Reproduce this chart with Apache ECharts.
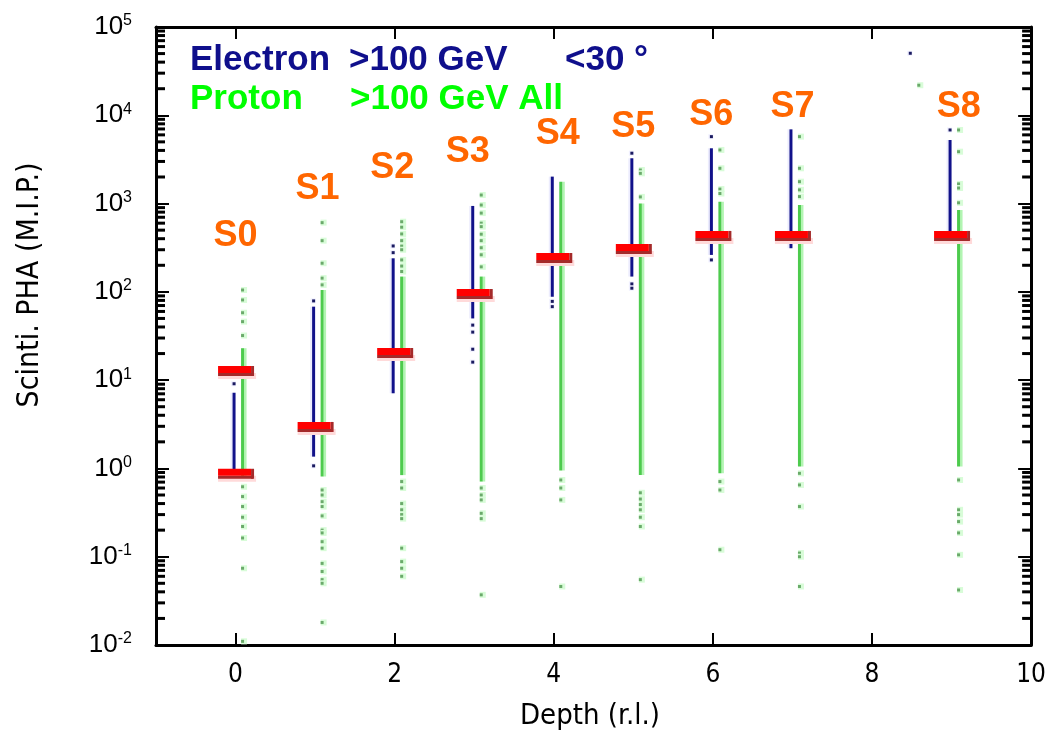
<!DOCTYPE html>
<html><head><meta charset="utf-8">
<script src="https://cdn.jsdelivr.net/npm/echarts@6/dist/echarts.min.js"></script>
<style>html,body{margin:0;padding:0;background:#fff}#c{width:1049px;height:738px}</style>
</head><body><div id="c"></div>
<script>
// ---------------- data ----------------
const layers = ['S0','S1','S2','S3','S4','S5','S6','S7','S8'];
const depth = [0, 1, 2, 3, 4, 5, 6, 7, 9];
const labelX = [0, 1.03, 1.97, 2.92, 4.05, 5.0, 5.98, 7.0, 9.09];
const labelY = [430, 1460, 2530, 3840, 6140, 7360, 10070, 12400, 12400];

const electronLo = [0.85, 1.36, 7.1, 50, 88, 149, 262, 312, 480];
const electronHi = [7.2, 68, 240, 940, 2020, 3260, 4230, 6930, 5250];
const electronDots = [
  [0, 9.1], [1, 79], [1, 1.07], [2, 331], [2, 278],
  [3, 42], [3, 35], [3, 22.4], [3, 16], [4, 78], [4, 68],
  [5, 3720], [5, 123], [5, 110], [6, 5730], [6, 230], [9, 6820], [8.5, 50400]
];

const protonLo = [0.74, 0.81, 0.84, 0.71, 0.95, 0.84, 0.88, 1.05, 1.05];
const protonHi = [23, 105, 149, 149, 1770, 1000, 1050, 963, 846];
const protonDots = [
  [0, 105], [0, 81], [0, 58], [0, 46], [0, 32], [0, 0.62], [0, 0.48], [0, 0.37], [0, 0.28], [0, 0.22], [0, 0.163], [0, 0.074], [0, 0.011],
  [1, 608], [1, 380], [1, 211], [1, 143], [1, 120], [1, 0.57], [1, 0.5], [1, 0.42], [1, 0.37], [1, 0.29], [1, 0.2], [1, 0.186], [1, 0.148], [1, 0.125], [1, 0.084], [1, 0.068], [1, 0.055], [1, 0.05], [1, 0.018],
  [2, 623], [2, 540], [2, 453], [2, 380], [2, 330], [2, 300], [2, 230], [2, 196], [2, 170], [2, 0.71], [2, 0.6], [2, 0.4], [2, 0.34], [2, 0.3], [2, 0.27], [2, 0.125], [2, 0.088], [2, 0.074], [2, 0.06],
  [3, 1250], [3, 963], [3, 780], [3, 600], [3, 548], [3, 450], [3, 380], [3, 316], [3, 263], [3, 192], [3, 0.6], [3, 0.5], [3, 0.44], [3, 0.31], [3, 0.27], [3, 0.037],
  [4, 0.74], [4, 0.6], [4, 0.44], [4, 0.046],
  [5, 2400], [5, 2200], [5, 1190], [5, 0.53], [5, 0.45], [5, 0.39], [5, 0.34], [5, 0.28], [5, 0.22], [5, 0.055],
  [6, 4050], [6, 2510], [6, 1460], [6, 1300], [6, 0.71], [6, 0.57], [6, 0.12],
  [7, 5730], [7, 2510], [7, 1770], [7, 1430], [7, 1200], [7, 0.88], [7, 0.65], [7, 0.37], [7, 0.11], [7, 0.1], [7, 0.046],
  [9, 6820], [9, 3870], [9, 1670], [9, 1500], [9, 1020], [9, 0.74], [9, 0.34], [9, 0.3], [9, 0.25], [9, 0.186], [9, 0.105], [9, 0.042],
  [8.5, 21900]
];

const meanPoints = [[0, 12.7], [0, 0.87], [1, 2.95], [2, 20.3], [3, 94.6], [4, 242], [5, 306], [6, 430], [7, 430], [9, 430]];

const xRange = [-1, 10];
const yRange = [0.01, 100000];
const xTicks = [0, 2, 4, 6, 8, 10];
const yTicks = [0.01, 0.1, 1, 10, 100, 1000, 10000, 100000];
const minorMultipliers = [2, 3, 4, 5, 6, 7, 8, 9];
const legendElectron = ['Electron', '>100 GeV', '<30 \u00b0'];
const legendProton = ['Proton', '>100 GeV All'];
const xTitle = 'Depth (r.l.)';
const yTitle = 'Scinti. PHA (M.I.P.)';

// ---------------- chart ----------------
const NARROW = '"DejaVu Sans Condensed", "Liberation Sans Narrow", "Liberation Sans", Arial, sans-serif';
const PLAIN = '"Liberation Sans", Arial, sans-serif';
const BOLD = '"Liberation Sans", Arial, sans-serif';
const E_DX = -1.5, P_DX = 7;

const chart = echarts.init(document.getElementById('c'));

const electronBars = depth.map((d, i) => [d, electronLo[i], electronHi[i]]);
const protonBars = depth.map((d, i) => [d, protonLo[i], protonHi[i]]);
const labelData = layers.map((n, i) => [labelX[i], labelY[i], i]);

function renderBar(kind) {
  return function (params, api) {
    const x = api.value(0);
    const top = api.coord([x, api.value(2)]);
    const bot = api.coord([x, api.value(1)]);
    const h = bot[1] - top[1];
    if (kind === 'e') {
      const cx = top[0] + E_DX;
      return { type: 'group', children: [
        { type: 'rect', shape: { x: cx - 3.5, y: top[1], width: 2, height: h }, style: { fill: '#ececfd' } },
        { type: 'rect', shape: { x: cx - 1.5, y: top[1], width: 3, height: h }, style: { fill: '#11118a' } }
      ]};
    }
    const cx = top[0] + P_DX;
    return { type: 'group', children: [
      { type: 'rect', shape: { x: cx + 1.5, y: top[1], width: 2.5, height: h }, style: { fill: '#b2f5b2' } },
      { type: 'rect', shape: { x: cx - 1.5, y: top[1], width: 3, height: h }, style: { fill: '#4dcb4d' } }
    ]};
  };
}
function renderDot(kind) {
  return function (params, api) {
    const p = api.coord([api.value(0), api.value(1)]);
    if (kind === 'e') {
      const cx = p[0] + E_DX;
      return { type: 'group', children: [
        { type: 'rect', shape: { x: cx - 3, y: p[1] - 2.5, width: 5, height: 5 }, style: { fill: '#f0f0ff' } },
        { type: 'rect', shape: { x: cx - 1.5, y: p[1] - 1.5, width: 3, height: 3 }, style: { fill: '#1a1a60' } }
      ]};
    }
    const cx = p[0] + P_DX;
    return { type: 'group', children: [
      { type: 'rect', shape: { x: cx - 1.5, y: p[1] - 3, width: 6, height: 6 }, style: { fill: '#d8fcd8' } },
      { type: 'rect', shape: { x: cx - 1.5, y: p[1] - 1.5, width: 3, height: 3 }, style: { fill: '#6aaa6a' } }
    ]};
  };
}
function renderMean(params, api) {
  const p = api.coord([api.value(0), api.value(1)]);
  const x0 = p[0] - 17.5, y0 = p[1] - 5;
  return { type: 'group', children: [
    { type: 'rect', shape: { x: x0, y: y0 + 7, width: 38, height: 6 }, style: { fill: '#ffdada' } },
    { type: 'rect', shape: { x: x0, y: y0 + 7, width: 35, height: 3 }, style: { fill: '#a52a2a' } },
    { type: 'rect', shape: { x: x0 + 33, y: y0, width: 3, height: 10 }, style: { fill: '#a52a2a' } },
    { type: 'rect', shape: { x: x0, y: y0, width: 33, height: 7 }, style: { fill: '#ff0000' } }
  ]};
}
function renderLabel(params, api) {
  const p = api.coord([api.value(0), api.value(1)]);
  return { type: 'text', x: p[0], y: p[1], style: {
    text: layers[api.value(2)], fill: '#ff6600', font: 'bold 36px ' + BOLD, align: 'center', verticalAlign: 'middle'
  }};
}

function yLabel(v) {
  const e = Math.round(Math.log10(v));
  return '{b|10}{s|' + (e < 0 ? '-' + (-e) : e) + '}';
}
const yRich = {
  b: { fontSize: 26, fontFamily: PLAIN, color: '#000', lineHeight: 28 },
  s: { fontSize: 16, fontFamily: PLAIN, color: '#000', verticalAlign: 'top', lineHeight: 16 }
};

function xAxisCfg(pos, showLabel) {
  return {
    type: 'value', position: pos, min: xRange[0], max: xRange[1],
    axisLine: { show: true, onZero: false, lineStyle: { color: '#000', width: 3 } },
    axisTick: { show: true, inside: true, length: 12, customValues: xTicks, lineStyle: { color: '#000', width: 2 } },
    axisLabel: { show: showLabel, customValues: xTicks, margin: 17, fontSize: 26, fontFamily: NARROW, color: '#000' },
    splitLine: { show: false }
  };
}
function yAxisCfg(pos, showLabel) {
  return {
    type: 'log', logBase: 10, position: pos, min: yRange[0], max: yRange[1],
    axisLine: { show: true, onZero: false, lineStyle: { color: '#000', width: 3 } },
    axisTick: { show: true, inside: true, length: 13, lineStyle: { color: '#000', width: 2 } },
    axisLabel: { show: showLabel, margin: 24, formatter: yLabel, rich: yRich },
    splitLine: { show: false }
  };
}

const textGraphics = [
  { type: 'text', x: 190, y: 60, style: { text: legendElectron[0], font: 'bold 35px ' + BOLD, fill: '#0f0f8c', verticalAlign: 'middle' } },
  { type: 'text', x: 349, y: 60, style: { text: legendElectron[1], font: 'bold 35px ' + BOLD, fill: '#0f0f8c', verticalAlign: 'middle' } },
  { type: 'text', x: 565, y: 60, style: { text: legendElectron[2], font: 'bold 35px ' + BOLD, fill: '#0f0f8c', verticalAlign: 'middle' } },
  { type: 'text', x: 190, y: 99, style: { text: legendProton[0], font: 'bold 35px ' + BOLD, fill: '#00ff00', verticalAlign: 'middle' } },
  { type: 'text', x: 350, y: 99, style: { text: legendProton[1], font: 'bold 35px ' + BOLD, fill: '#00ff00', verticalAlign: 'middle' } },
  { type: 'text', x: 30, y: 285, rotation: Math.PI / 2, style: { text: yTitle, font: '30px ' + NARROW, fill: '#000', align: 'center', verticalAlign: 'middle' } },
  { type: 'text', x: 590, y: 716, style: { text: xTitle, font: '29px ' + NARROW, fill: '#000', align: 'center', verticalAlign: 'middle' } }
];

const option = {
  animation: false,
  backgroundColor: '#fff',
  grid: { left: 156, right: 17, top: 27, bottom: 93, containLabel: false },
  xAxis: [xAxisCfg('bottom', true), xAxisCfg('top', false)],
  yAxis: [yAxisCfg('left', true), yAxisCfg('right', false)],
  graphic: textGraphics,
  series: [
    { type: 'custom', name: 'proton', clip: true, data: protonBars, renderItem: renderBar('p'), z: 2 },
    { type: 'custom', name: 'protonDots', clip: true, data: protonDots, renderItem: renderDot('p'), z: 2 },
    { type: 'custom', name: 'electron', clip: true, data: electronBars, renderItem: renderBar('e'), z: 3 },
    { type: 'custom', name: 'electronDots', clip: true, data: electronDots, renderItem: renderDot('e'), z: 3 },
    { type: 'custom', name: 'mean', clip: true, data: meanPoints, renderItem: renderMean, z: 4 },
    { type: 'custom', name: 'layers', clip: false, data: labelData, renderItem: renderLabel, z: 5, silent: true }
  ]
};
chart.setOption(option);

// log-axis minor ticks (2..9 per decade) on both frame sides, placed through the chart's own scales
const leftX = chart.convertToPixel({ xAxisIndex: 0 }, xRange[0]);
const rightX = chart.convertToPixel({ xAxisIndex: 0 }, xRange[1]);
const minorGraphics = [];
yTicks.slice(0, -1).forEach(t => {
  minorMultipliers.forEach(m => {
    const py = chart.convertToPixel({ yAxisIndex: 0 }, t * m);
    minorGraphics.push({ type: 'rect', z: 100, shape: { x: leftX, y: py - 1.5, width: 9, height: 3 }, style: { fill: '#000' } });
    minorGraphics.push({ type: 'rect', z: 100, shape: { x: rightX - 9, y: py - 1.5, width: 9, height: 3 }, style: { fill: '#000' } });
  });
});
chart.setOption({ graphic: textGraphics.concat(minorGraphics) });
</script>
</body></html>
